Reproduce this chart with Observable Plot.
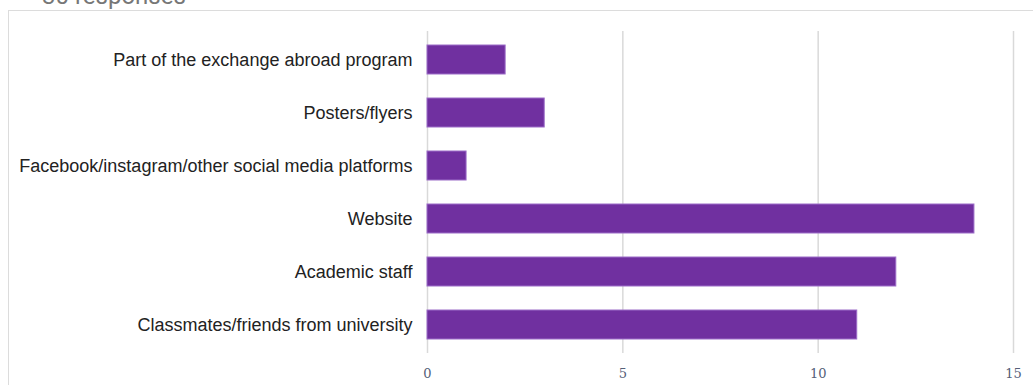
<!DOCTYPE html>
<html>
<head>
<meta charset="utf-8">
<script src="https://cdn.jsdelivr.net/npm/d3@7"></script>
<script src="https://cdn.jsdelivr.net/npm/@observablehq/plot@0.6"></script>
<style>
  html, body { margin: 0; padding: 0; background: #fff; width: 1033px; height: 385px; overflow: hidden; }
  #wrap { position: relative; width: 1033px; height: 385px; }
  #resp { position: absolute; left: 42px; top: -16px; font-family: Roboto, "Liberation Sans", sans-serif; font-size: 24px; line-height: 24px; color: #777; white-space: nowrap; }
  #box { position: absolute; left: 8px; top: 10px; right: -5px; bottom: -5px; border-top: 1.5px solid #dcdcdc; border-left: 1.5px solid #dcdcdc; }
  #chart { position: absolute; left: 0; top: 0; }
</style>
</head>
<body>
<div id="wrap">
  <div id="resp">30 responses</div>
  <div id="box"></div>
  <div id="chart"></div>
</div>
<script>
const categories = [
  "Part of the exchange abroad program",
  "Posters/flyers",
  "Facebook/instagram/other social media platforms",
  "Website",
  "Academic staff",
  "Classmates/friends from university"
];
const counts = [2, 3, 1, 14, 12, 11];
const xTicks = [0, 5, 10, 15];

const data = categories.map((c, i) => ({category: c, count: counts[i]}));

const chart = Plot.plot({
  width: 1033,
  height: 385,
  marginLeft: 427,
  marginRight: 20,
  marginTop: 31,
  marginBottom: 32,
  style: {background: "transparent", overflow: "visible"},
  x: {domain: [0, 15], ticks: xTicks, label: null},
  y: {domain: categories, paddingInner: 0.46, paddingOuter: 0.23, label: null},
  marks: [
    Plot.ruleX(xTicks, {x: d => d, stroke: "#d9d9d9", strokeWidth: 1.5}),
    Plot.barX(data, {y: "category", x: "count", fill: "#7030a0", stroke: "#9c6cc8", strokeWidth: 1}),
    Plot.axisY({tickSize: 0, tickPadding: 15, fontSize: 18, fill: "#222", fontFamily: "Liberation Sans, Arial, sans-serif", label: null}),
    Plot.axisX({ticks: xTicks, tickSize: 0, tickPadding: 15, fontSize: 13, fill: "#556078", fontFamily: "DejaVu Serif, Liberation Serif, serif", label: null, tickFormat: d3.format("d")})
  ]
});
document.getElementById("chart").appendChild(chart);
</script>
</body>
</html>
